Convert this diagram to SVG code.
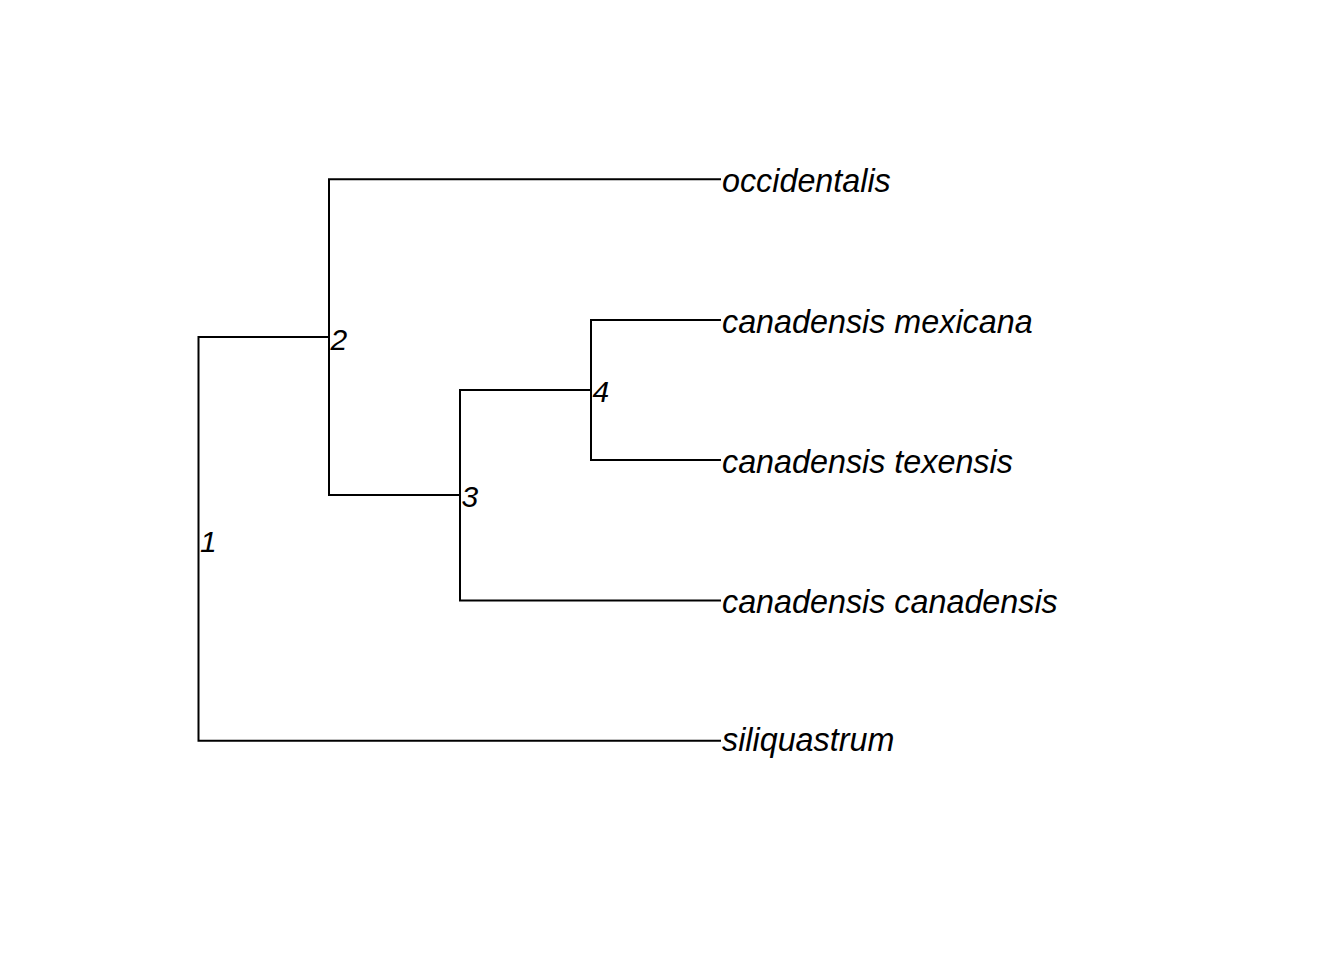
<svg xmlns="http://www.w3.org/2000/svg" width="1344" height="960" viewBox="0 0 1344 960">
<style>
.e{stroke:#000;stroke-width:2;fill:none;stroke-linecap:square}
.t{font-family:"Liberation Sans",Arial,sans-serif;font-style:italic;font-size:32.3px;fill:#000}
.n{font-family:"Liberation Sans",Arial,sans-serif;font-style:italic;font-size:30px;fill:#000}
</style>
<rect width="1344" height="960" fill="#fff"/>
<g id="edges">
<path class="e" d="M198.5,337 V740.7 M198.5,337 H329 M198.5,740.7 H720"/>
<path class="e" d="M329,179.3 V495 M329,179.3 H720 M329,495 H460"/>
<path class="e" d="M460,390 V600.5 M460,390 H591 M460,600.5 H720"/>
<path class="e" d="M591,320 V460 M591,320 H720 M591,460 H720"/>
</g>
<g id="tip-occidentalis"><text class="t" x="722" y="191.5">occidentalis</text></g>
<g id="tip-mexicana"><text class="t" x="722" y="332.5">canadensis mexicana</text></g>
<g id="tip-texensis"><text class="t" x="722" y="472.5">canadensis texensis</text></g>
<g id="tip-canadensis"><text class="t" x="722" y="613">canadensis canadensis</text></g>
<g id="tip-siliquastrum"><text class="t" x="722" y="751">siliquastrum</text></g>
<g id="node-1"><text class="n" x="200" y="551.5">1</text></g>
<g id="node-2"><text class="n" x="330.5" y="349.5">2</text></g>
<g id="node-3"><text class="n" x="461.5" y="506.5">3</text></g>
<g id="node-4"><text class="n" x="592.5" y="401.5">4</text></g>
</svg>
